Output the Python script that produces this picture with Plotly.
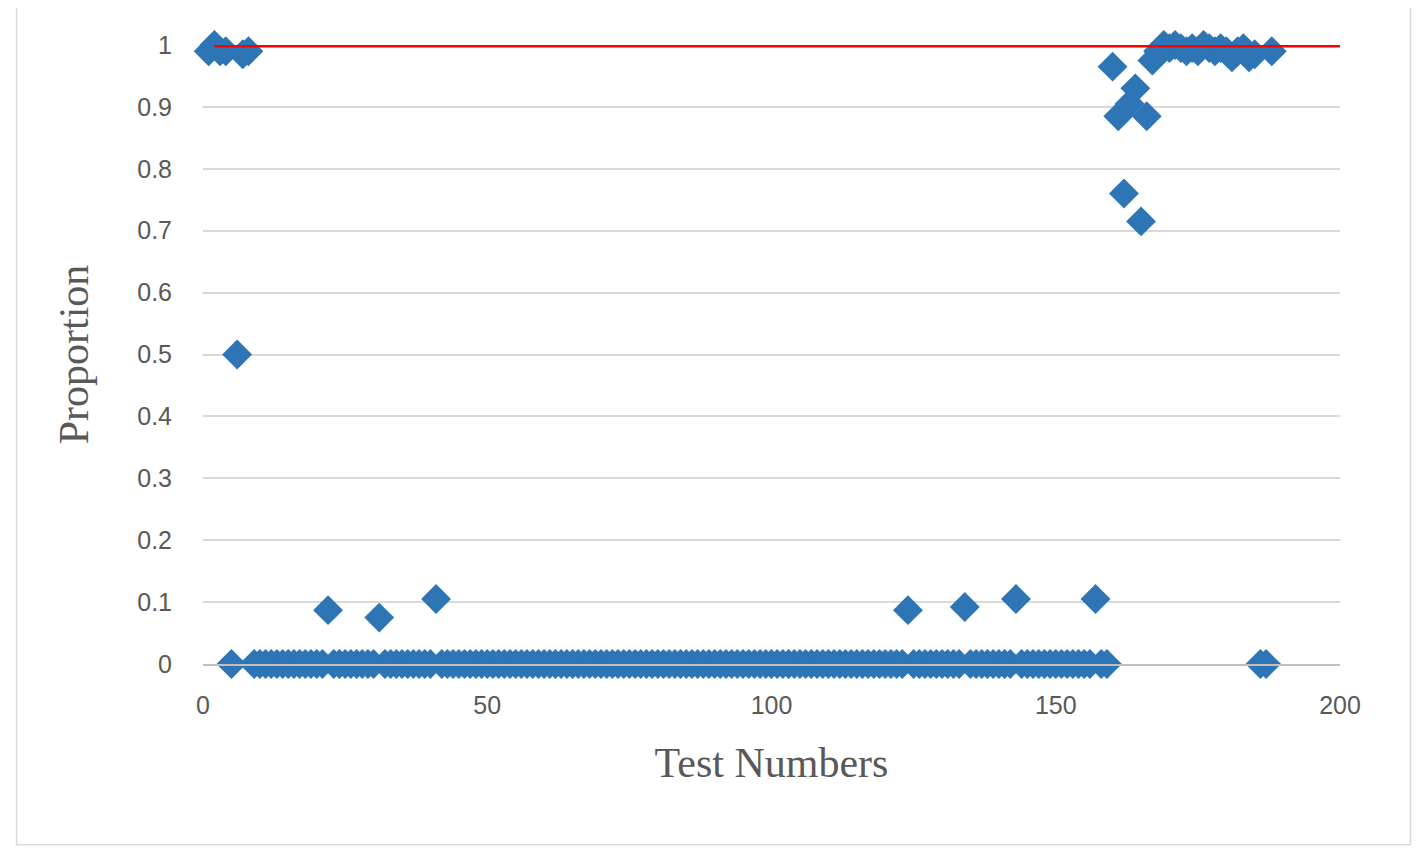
import plotly.graph_objects as go

head_x = [1, 2, 3, 4, 5, 6, 7, 8]
head_y = [0.99, 1.0, 0.99, 0.99, 0.0, 0.5, 0.985, 0.99]
special = {22: 0.087, 31: 0.075, 41: 0.105, 124: 0.087, 134: 0.092, 143: 0.105, 157: 0.105}
mid_x = list(range(9, 160))
mid_y = [special.get(i, 0.0) for i in mid_x]
tail_x = [160, 161, 162, 163, 164, 165, 166, 167, 168, 169, 170, 171, 172, 173, 174, 175, 176,
          177, 178, 179, 180, 181, 182, 183, 184, 185, 186, 187, 188]
tail_y = [0.965, 0.885, 0.76, 0.905, 0.93, 0.715, 0.885, 0.975, 0.99, 1.0, 0.995, 1.0, 0.995,
          0.99, 0.995, 0.99, 1.0, 0.995, 0.99, 0.995, 0.99, 0.98, 0.99, 0.995, 0.98, 0.985, 0.0, 0.0, 0.99]
xs = head_x + mid_x + tail_x
ys = head_y + mid_y + tail_y
ref_x = [2, 200]
ref_y = [1, 1]

fig = go.Figure()
fig.add_trace(go.Scatter(x=xs, y=ys, mode="markers",
                         marker=dict(symbol="diamond", size=23, color="#2E75B6"), cliponaxis=False))
fig.add_trace(go.Scatter(x=ref_x, y=ref_y, mode="lines", line=dict(color="#FF0000", width=5), cliponaxis=False))
fig.update_layout(
    width=1422, height=850, showlegend=False,
    paper_bgcolor="white", plot_bgcolor="white",
    margin=dict(l=195, r=90, t=37, b=194),
    font=dict(family="Liberation Sans", size=25, color="#595959"),
    shapes=[dict(type="rect", xref="paper", yref="paper", x0=-0.164, x1=1.062, y0=-0.292, y1=1.065,
                 line=dict(color="#D9D9D9", width=1.5))],
)
fig.update_xaxes(range=[0, 200], tickvals=[0, 50, 100, 150, 200], showgrid=False, zeroline=False,
                 showline=True, linecolor="#BFBFBF", linewidth=1.5, ticks="", ticklabelstandoff=18,
                 title=dict(text="Test Numbers", font=dict(family="Liberation Serif", size=42, color="#595959"), standoff=30))
fig.update_yaxes(range=[0, 1], tickvals=[i / 10 for i in range(11)],
                 ticktext=["0", "0.1", "0.2", "0.3", "0.4", "0.5", "0.6", "0.7", "0.8", "0.9", "1"],
                 showgrid=True, gridcolor="#D9D9D9", gridwidth=1.5, zeroline=False, ticks="", ticklabelstandoff=30,
                 title=dict(text="Proportion", font=dict(family="Liberation Serif", size=42, color="#595959"), standoff=35))
fig.write_html("out.html")
